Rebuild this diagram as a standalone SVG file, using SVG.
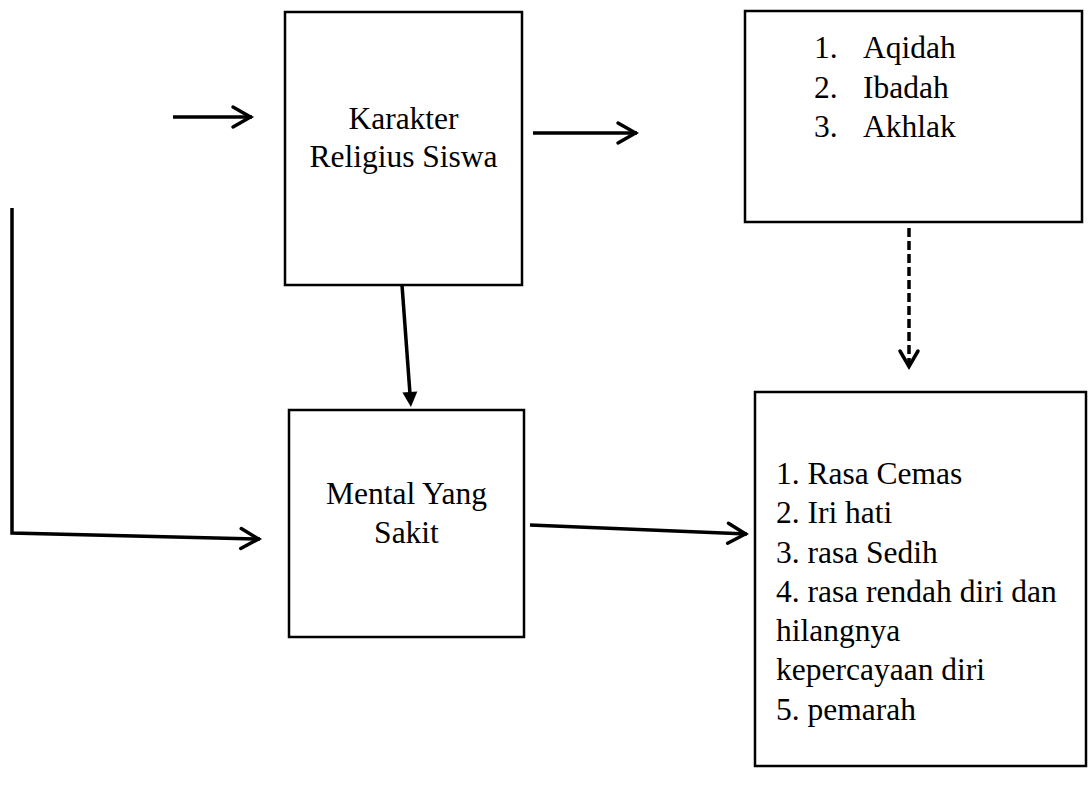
<svg xmlns="http://www.w3.org/2000/svg" width="1089" height="792" viewBox="0 0 1089 792">
<style>
.box{fill:#fff;stroke:#000;stroke-width:2.5}
.t{font-family:"Liberation Serif","Times New Roman",serif;font-size:31.5px;fill:#000}
.c{stroke:#000;stroke-width:3.5;fill:none}
</style>
<defs>
<marker id="chev" markerUnits="userSpaceOnUse" viewBox="-26 -16 30 32" refX="0" refY="0" markerWidth="30" markerHeight="32" orient="auto">
<path d="M-19,-10 L-1.5,0 L-19,10" fill="none" stroke="#000" stroke-width="3.5" stroke-linecap="round"/>
</marker>
<marker id="chevs" markerUnits="userSpaceOnUse" viewBox="-24 -14 28 28" refX="0" refY="0" markerWidth="28" markerHeight="28" orient="auto">
<path d="M-17,-9 L-1.5,0 L-17,9" fill="none" stroke="#000" stroke-width="3.5" stroke-linecap="round"/>
</marker>
<marker id="tri" markerUnits="userSpaceOnUse" viewBox="-2 -10 20 20" refX="2" refY="0" markerWidth="20" markerHeight="20" orient="auto">
<path d="M0,-7.5 L15,0 L0,7.5 Z" fill="#000"/>
</marker>
</defs>
<rect width="1089" height="792" fill="#fff"/>
<g id="connectors">
<line class="c" x1="173" y1="117" x2="252" y2="117" marker-end="url(#chev)"/>
<line class="c" x1="533" y1="133" x2="637" y2="133" marker-end="url(#chev)"/>
<line class="c" x1="909" y1="228" x2="909" y2="368" stroke-dasharray="9,4" marker-end="url(#chevs)"/>
<line class="c" x1="402" y1="285" x2="410" y2="394" marker-end="url(#tri)"/>
<polyline class="c" points="12,208 12,533 260,539" marker-end="url(#chev)"/>
<line class="c" x1="530" y1="525" x2="747" y2="534" marker-end="url(#chev)"/>
</g>
<g id="karakter">
<rect class="box" x="285" y="12" width="237" height="273"/>
<text class="t" x="403.5" y="129" text-anchor="middle">Karakter</text>
<text class="t" x="403.5" y="167" text-anchor="middle">Religius Siswa</text>
</g>
<g id="aspek">
<rect class="box" x="745" y="11" width="337" height="211"/>
<text class="t" x="814" y="58">1.</text><text class="t" x="863" y="58">Aqidah</text>
<text class="t" x="814" y="98">2.</text><text class="t" x="863" y="98">Ibadah</text>
<text class="t" x="814" y="137">3.</text><text class="t" x="863" y="137">Akhlak</text>
</g>
<g id="mental">
<rect class="box" x="289" y="410" width="235" height="227"/>
<text class="t" x="406.5" y="504" text-anchor="middle">Mental Yang</text>
<text class="t" x="406.5" y="543" text-anchor="middle">Sakit</text>
</g>
<g id="gejala">
<rect class="box" x="755" y="392" width="331" height="374"/>
<text class="t" x="776" y="484">1. Rasa Cemas</text>
<text class="t" x="776" y="523">2. Iri hati</text>
<text class="t" x="776" y="563">3. rasa Sedih</text>
<text class="t" x="776" y="602">4. rasa rendah diri dan</text>
<text class="t" x="776" y="641">hilangnya</text>
<text class="t" x="776" y="680">kepercayaan diri</text>
<text class="t" x="776" y="720">5. pemarah</text>
</g>
</svg>
